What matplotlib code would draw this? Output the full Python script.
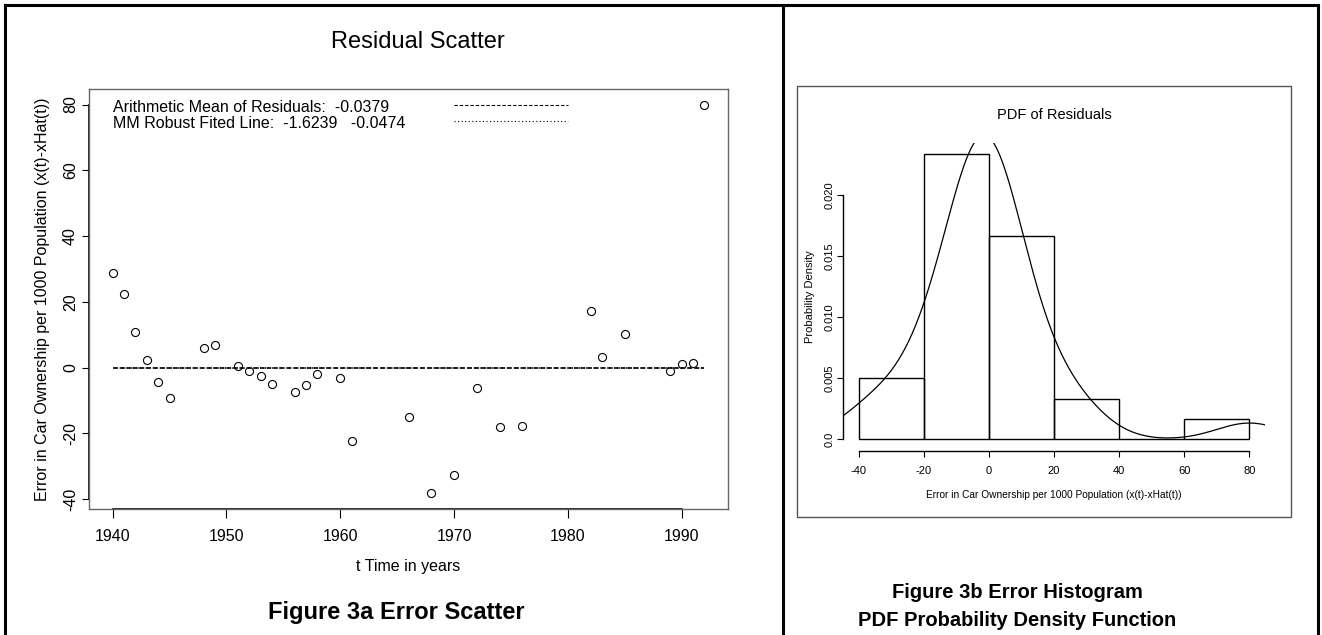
import matplotlib
matplotlib.use('Agg')
import matplotlib.pyplot as plt
import numpy as np
from matplotlib.lines import Line2D
from matplotlib.patches import Rectangle

# residuals
years = [1940, 1941, 1942, 1943, 1944, 1945, 1948, 1949, 1951, 1952,
         1953, 1954, 1956, 1957, 1958, 1960, 1961, 1966, 1968, 1970,
         1972, 1974, 1976, 1982, 1983, 1985, 1989, 1990, 1991, 1992]
residuals = [28.9, 22.5, 10.9, 2.3, -4.4, -9.2, 6.0, 6.9, 0.4, -1.1,
             -2.6, -4.9, -7.4, -5.2, -2.1, -3.1, -22.2, -15.1, -38.3, -32.7,
             -6.3, -18.1, -17.9, 17.2, 3.2, 10.3, -1.1, 1.2, 1.5, 80.0]
mean_resid = -0.0379
mm_level = 0.0
year_ticks = [1940, 1950, 1960, 1970, 1980, 1990]
resid_ticks = [-40, -20, 0, 20, 40, 60, 80]

hist_breaks = [-40, -20, 0, 20, 40, 60, 80]
dens_ticks = [0.0, 0.005, 0.010, 0.015, 0.020]
dens_labels = ['0.0', '0.005', '0.010', '0.015', '0.020']
kde_bw = 10.0

W, H = 1322, 635
plt.rcParams['font.family'] = ['Liberation Sans', 'DejaVu Sans']
plt.rcParams['axes.unicode_minus'] = False
fig = plt.figure(figsize=(W / 100, H / 100), dpi=100)

def rect(x0, y0, x1, y1):
    # pixel box (top-left origin) -> figure fraction
    return [x0 / W, 1 - y1 / H, (x1 - x0) / W, (y1 - y0) / H]

# ---------------- left: residual scatter ----------------
ax = fig.add_axes(rect(89, 89, 728, 509))
ax.plot(years, residuals, 'o', ms=5.8, mfc='none', mec='black', mew=0.8)
ax.plot([years[0], years[-1]], [mean_resid, mean_resid], color='black',
        lw=1.3, dashes=(2.5, 1.2))
ax.plot([years[0], years[-1]], [mm_level, mm_level], color='#333333',
        lw=1.3, dashes=(0.8, 1.2))

ax.text(1940, 79.0, 'Arithmetic Mean of Residuals:  -0.0379', fontsize=11.5, va='center')
ax.text(1940, 74.2, 'MM Robust Fited Line:  -1.6239   -0.0474', fontsize=11.5, va='center')
ax.plot([1970, 1980], [80, 80], color='black', lw=0.8, dashes=(3, 1.8))
ax.plot([1970, 1980], [75, 75], color='black', lw=0.8, dashes=(1, 2.2))

pad = 0.04 * (max(years) - min(years))
ax.set_xlim(min(years) - pad, max(years) + pad)
pad = 0.04 * (max(residuals) - min(residuals))
ax.set_ylim(min(residuals) - pad, max(residuals) + pad)
ax.set_xticks(year_ticks)
ax.set_yticks(resid_ticks)
ax.tick_params(axis='x', length=6.5, width=0.8, pad=8, labelsize=11.5)
ax.tick_params(axis='y', length=5, width=0.8, pad=3, labelsize=11.5, labelrotation=90)
for lab in ax.get_yticklabels():
    lab.set_va('center')
for s in ax.spines.values():
    s.set_color('#666666')
    s.set_linewidth(1)
ax.plot([year_ticks[0], year_ticks[-1]], [0, 0], color='black', lw=1.2,
        transform=ax.get_xaxis_transform(), clip_on=False)
ax.plot([0, 0], [resid_ticks[0], resid_ticks[-1]], color='black', lw=1.2,
        transform=ax.get_yaxis_transform(), clip_on=False)

ax.set_xlabel('t Time in years', fontsize=11.5)
ax.xaxis.set_label_coords(0.5, (509 - 567) / 420)
ax.xaxis.label.set_va('center')
ax.set_ylabel('Error in Car Ownership per 1000 Population (x(t)-xHat(t))', fontsize=11.5)
ax.yaxis.set_label_coords((43 - 89) / 639, 0.5)
ax.yaxis.label.set_va('center')
ax.text(0.5 + 9 / 639, (509 - 42) / 420, 'Residual Scatter', transform=ax.transAxes,
        ha='center', va='center', fontsize=17)

# ---------------- right: histogram + density ----------------
narrow = ['Liberation Sans Narrow', 'Liberation Sans', 'DejaVu Sans']
hx = fig.add_axes(rect(843, 142.7, 1265, 450.7))
hx.hist(residuals, bins=hist_breaks, density=True, histtype='bar',
        fill=False, edgecolor='black', linewidth=1)
res = np.array(residuals)
grid = np.linspace(res.min() - 3 * kde_bw, res.max() + 3 * kde_bw, 512)
dens = np.exp(-0.5 * ((grid[:, None] - res[None, :]) / kde_bw) ** 2).sum(axis=1)
dens /= len(res) * kde_bw * np.sqrt(2 * np.pi)
hx.plot(grid, dens, color='black', lw=0.9)

pad = 0.04 * (hist_breaks[-1] - hist_breaks[0])
hx.set_xlim(hist_breaks[0] - pad, hist_breaks[-1] + pad)
counts, _ = np.histogram(residuals, bins=hist_breaks, density=True)
hx.set_ylim(-0.04 * counts.max(), counts.max() * 1.04)
hx.set_xticks(hist_breaks)
hx.set_yticks(dens_ticks)
hx.set_yticklabels(dens_labels)
for s in ['top', 'right']:
    hx.spines[s].set_visible(False)
hx.spines['bottom'].set_bounds(hist_breaks[0], hist_breaks[-1])
hx.spines['left'].set_bounds(dens_ticks[0], dens_ticks[-1])
for s in ['bottom', 'left']:
    hx.spines[s].set_linewidth(1)
hx.tick_params(axis='x', length=4, width=0.8, pad=7, labelsize=8)
hx.tick_params(axis='y', length=4, width=0.8, pad=2, labelsize=8, labelrotation=90)
for lab in hx.get_xticklabels() + hx.get_yticklabels():
    lab.set_family(narrow)
for lab in hx.get_yticklabels():
    lab.set_va('center')
hx.set_xlabel('Error in Car Ownership per 1000 Population (x(t)-xHat(t))',
              fontsize=7.3, family=narrow)
hx.xaxis.set_label_coords(0.5, (450.7 - 495) / 308)
hx.xaxis.label.set_va('center')
hx.set_ylabel('Probability Density', fontsize=8, family=narrow)
hx.yaxis.set_label_coords((810 - 843) / 422, 0.5)
hx.yaxis.label.set_va('center')
hx.text(0.5, (450.7 - 115) / 308, 'PDF of Residuals', transform=hx.transAxes,
        ha='center', va='center', fontsize=10.5, family=narrow)

# frame of the embedded histogram picture
fig.add_artist(Rectangle((797 / W, 1 - 517 / H), (1291 - 797) / W, (517 - 86) / H,
                         transform=fig.transFigure, fill=False, ec='#555555', lw=1))

# ---------------- captions and page frame ----------------
fig.text(396 / W, 1 - 612 / H, 'Figure 3a Error Scatter', ha='center', va='center',
         fontsize=17, fontweight='bold')
fig.text(1017 / W, 1 - 593 / H, 'Figure 3b Error Histogram', ha='center', va='center',
         fontsize=14.5, fontweight='bold')
fig.text(1017 / W, 1 - 620 / H, 'PDF Probability Density Function', ha='center', va='center',
         fontsize=14.5, fontweight='bold')

for xs, ys in [([5, 5], [5, H + 5]), ([5, 1318], [5, 5]), ([1318, 1318], [5, H + 5]),
               ([783, 783], [5, H + 5])]:
    fig.add_artist(Line2D([x / W for x in xs], [1 - y / H for y in ys],
                          transform=fig.transFigure, color='black', lw=2.2))

fig.savefig('out.png', dpi=100)
plt.close(fig)
